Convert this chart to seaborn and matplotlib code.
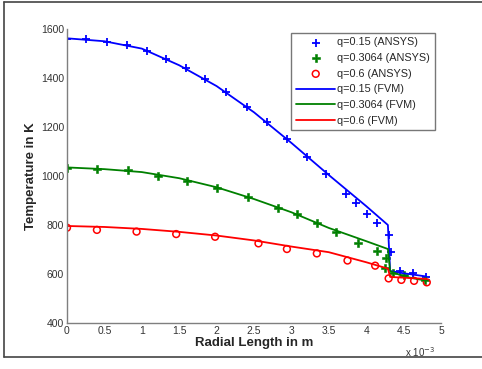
import numpy as np
import pandas as pd
import matplotlib
matplotlib.use("Agg")
import matplotlib.pyplot as plt
import seaborn as sns
from matplotlib.lines import Line2D

sns.set_style("white")
plt.rcParams['font.family'] = ['Liberation Sans', 'DejaVu Sans']

# ANSYS points (x in mm, T in K)
x_ansys_015 = [0.0, 0.26, 0.53, 0.80, 1.07, 1.32, 1.59, 1.85, 2.12, 2.40, 2.67, 2.94,
               3.21, 3.46, 3.73, 3.86, 4.01, 4.14, 4.30, 4.33, 4.45, 4.62, 4.80]
t_ansys_015 = [1560, 1558, 1548, 1533, 1512, 1478, 1439, 1397, 1344, 1282, 1222, 1151,
               1079, 1007, 925, 891, 845, 807, 759, 690, 612, 603, 589]

x_ansys_03064 = [0.0, 0.40, 0.81, 1.21, 1.61, 2.01, 2.42, 2.82, 3.08, 3.34, 3.60, 3.89,
                 4.14, 4.26, 4.25, 4.36, 4.50, 4.79]
t_ansys_03064 = [1034, 1029, 1023, 1001, 980, 952, 913, 868, 844, 807, 770, 728,
                 694, 664, 623, 605, 596, 575]

x_ansys_06 = [0.0, 0.40, 0.93, 1.46, 1.98, 2.56, 2.94, 3.34, 3.75, 4.12, 4.30, 4.47, 4.64, 4.81]
t_ansys_06 = [789, 780, 773, 763, 752, 725, 702, 684, 655, 634, 582, 576, 572, 566]

# FVM lines
x_fvm = [0.0, 0.5, 1.0, 1.5, 2.0, 2.5, 3.0, 3.5, 4.0, 4.29, 4.32, 4.5, 4.8]
t_fvm_015 = [1562, 1550, 1520, 1452, 1367, 1260, 1135, 1004, 877, 800, 612, 603, 590]
t_fvm_03064 = [1035, 1028, 1016, 991, 954, 906, 852, 788, 734, 702, 612, 590, 573]
t_fvm_06 = [796, 792, 784, 772, 757, 737, 712, 689, 648, 622, 588, 585, 580]

fig = plt.figure(figsize=(4.82, 3.69), dpi=100)
ax = fig.add_axes([67/482, 1-323/369, 374/482, 294/369])

blue, green, red = '#0000ff', '#008000', '#ff0000'

sns.scatterplot(x=x_ansys_015, y=t_ansys_015, ax=ax, marker='+', color=blue, s=40,
                linewidth=1.3, label='q=0.15 (ANSYS)')
sns.scatterplot(x=x_ansys_03064, y=t_ansys_03064, ax=ax, marker='P', color=green, s=34,
                edgecolor=green, linewidth=0.4, label='q=0.3064 (ANSYS)')
sns.scatterplot(x=x_ansys_06, y=t_ansys_06, ax=ax, marker='o', facecolor='none',
                edgecolor=red, s=24, linewidth=1.1, label='q=0.6 (ANSYS)')
sns.lineplot(x=x_fvm, y=t_fvm_015, ax=ax, color=blue, lw=1.3, label='q=0.15 (FVM)')
sns.lineplot(x=x_fvm, y=t_fvm_03064, ax=ax, color=green, lw=1.3, label='q=0.3064 (FVM)')
sns.lineplot(x=x_fvm, y=t_fvm_06, ax=ax, color=red, lw=1.3, label='q=0.6 (FVM)')

ax.set_xlim(0, 5)
ax.set_ylim(400, 1600)
ax.set_xticks(np.arange(0, 5.01, 0.5))
ax.set_xticklabels(['0', '0.5', '1', '1.5', '2', '2.5', '3', '3.5', '4', '4.5', '5'])
ax.set_yticks(np.arange(400, 1601, 200))
for s in ['top', 'right']:
    ax.spines[s].set_visible(False)
for s in ['left', 'bottom']:
    ax.spines[s].set_color('#7f7f7f')
    ax.spines[s].set_linewidth(1.0)
ax.tick_params(direction='in', length=3, width=0.8, color='#7f7f7f',
               labelsize=7.5, labelcolor='#333333', pad=2)
ax.set_xlabel('Radial Length in m', fontsize=9.5, fontweight='bold', labelpad=1)
ax.set_ylabel('Temperature in K', fontsize=9.5, fontweight='bold', labelpad=3)
ax.text(0.984, -0.075, r'x 10$^{-3}$', transform=ax.transAxes, ha='right', va='top',
        fontsize=7, color='#333333')

leg = ax.legend(loc='upper right', bbox_to_anchor=(0.984, 0.988), fontsize=7.8,
                frameon=True, fancybox=False, borderpad=0.45, labelspacing=0.52,
                handlelength=3.6, handletextpad=0.2, borderaxespad=0)
leg.get_frame().set_edgecolor('#555555')
leg.get_frame().set_linewidth(1.0)

# figure frame
fig.add_artist(Line2D([4/482, 4/482], [1-357/369, 1-2/369], transform=fig.transFigure,
                      color='#444444', lw=1.2))
fig.add_artist(Line2D([4/482, 1.0], [1-2/369, 1-2/369], transform=fig.transFigure,
                      color='#444444', lw=1.2))
fig.add_artist(Line2D([4/482, 1.0], [1-357/369, 1-357/369], transform=fig.transFigure,
                      color='#444444', lw=1.2))

fig.savefig('out.png', dpi=100)
